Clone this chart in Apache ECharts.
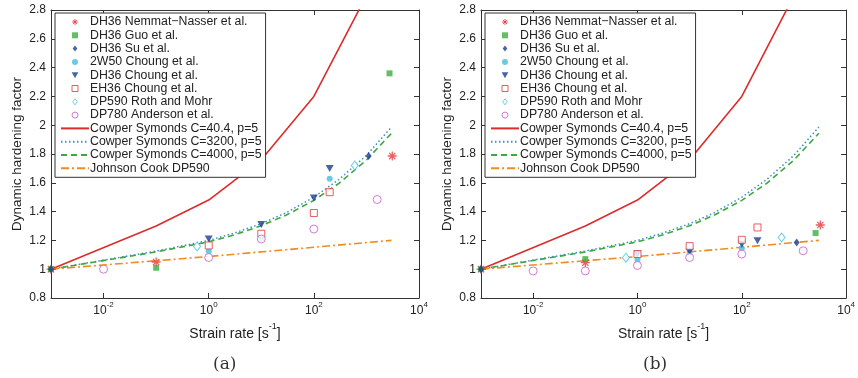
<!DOCTYPE html>
<html>
<head>
<meta charset="utf-8">
<script src="https://cdn.jsdelivr.net/npm/echarts@6/dist/echarts.min.js"></script>
<style>
html,body{margin:0;padding:0;background:#fff;}
#c{width:858px;height:378px;}
</style>
</head>
<body>
<div id="c"></div>
<script>
// ---------- data (strain rate [1/s], dynamic hardening factor) ----------
const xTickValues = [0.01, 1, 100, 10000];
const seriesNames = [
  'DH36 Nemmat\u2212Nasser et al.', 'DH36 Guo et al.', 'DH36 Su et al.', '2W50 Choung et al.',
  'DH36 Choung et al.', 'EH36 Choung et al.', 'DP590 Roth and Mohr', 'DP780 Anderson et al.',
  'Cowper Symonds C=40.4, p=5', 'Cowper Symonds C=3200, p=5', 'Cowper Symonds C=4000, p=5', 'Johnson Cook DP590'
];
const panelLabels = ['(a)', '(b)'];

// model curves (same in both panels)
const csC404  = [[0.001,1.0],[0.1,1.30],[1,1.48],[10,1.76],[100,2.20],[1000,2.90]];
const csC3200 = [[0.001,1.0],[0.1,1.126],[1,1.20],[3,1.25],[10,1.316],[30,1.393],[100,1.50],[300,1.623],[1000,1.79],[3000,1.987]];
const csC4000 = [[0.001,1.0],[0.1,1.12],[1,1.19],[3,1.237],[10,1.302],[30,1.376],[100,1.478],[300,1.596],[1000,1.758],[3000,1.944]];
const jcDP590 = [[0.001,1.0],[1,1.088],[3000,1.20]];

// panel (a) measurements
const aNemmat  = [[0.001,1.0],[0.1,1.05],[3100,1.786]];
const aGuo     = [[0.001,1.0],[0.1,1.01],[2750,2.36]];
const aSu      = [[0.001,1.0],[1100,1.786]];
const a2W50    = [[1,1.125],[10,1.215],[200,1.628]];
const aDH36Ch  = [[1,1.21],[10,1.31],[100,1.495],[200,1.70]];
const aEH36Ch  = [[1,1.165],[10,1.246],[100,1.39],[200,1.535]];
const aDP590   = [[0.6,1.158],[600,1.72]];
const aDP780   = [[0.01,1.0],[1,1.081],[10,1.21],[100,1.279],[1600,1.484]];

// panel (b) measurements
const bNemmat  = [[0.001,1.0],[0.1,1.045],[3200,1.307]];
const bGuo     = [[0.001,1.0],[0.1,1.07],[2600,1.251]];
const bSu      = [[0.001,1.0],[1130,1.186]];
const b2W50    = [[1,1.068],[10,1.12],[100,1.146]];
const bDH36Ch  = [[1,1.105],[10,1.123],[100,1.174],[200,1.197]];
const bEH36Ch  = [[1,1.105],[10,1.16],[100,1.204],[200,1.29]];
const bDP590   = [[0.6,1.08],[580,1.22]];
const bDP780   = [[0.01,0.988],[0.1,0.988],[1,1.026],[10,1.081],[100,1.105],[1500,1.128]];

const panelData = [
  [aNemmat, aGuo, aSu, a2W50, aDH36Ch, aEH36Ch, aDP590, aDP780],
  [bNemmat, bGuo, bSu, b2W50, bDH36Ch, bEH36Ch, bDP590, bDP780]
];
const curveData = [csC404, csC3200, csC4000, jcDP590];

// ---------- styles ----------
const FONT = '"Liberation Sans", Arial, Helvetica, sans-serif';
const AX = '#333';
const P_AST = 'path://M5,0L5,10M0,5L10,5M1.5,1.5L8.5,8.5M8.5,1.5L1.5,8.5';
const P_SQ = 'path://M0,0L10,0L10,10L0,10Z';
const P_DIA = 'path://M5,0L10,6.5L5,13L0,6.5Z';
const P_TRI = 'path://M0,0L10,0L5,9Z';
const P_CIR = 'circle';
const markerStyles = [
  {symbol: P_AST, symbolSize: 9, itemStyle: {color: 'rgba(0,0,0,0)', borderColor: '#e8343c', borderWidth: 1.3}},
  {symbol: P_SQ, symbolSize: 6, itemStyle: {color: '#3fae3f'}},
  {symbol: P_DIA, symbolSize: [6,8], itemStyle: {color: '#1d3c8c'}},
  {symbol: P_CIR, symbolSize: 6, itemStyle: {color: '#44bddb'}},
  {symbol: P_TRI, symbolSize: [8,7], itemStyle: {color: '#1d3c8c'}},
  {symbol: P_SQ, symbolSize: 7, itemStyle: {color: '#fff', borderColor: '#e0363c', borderWidth: 1}},
  {symbol: P_DIA, symbolSize: [7,9], itemStyle: {color: '#fff', borderColor: '#47c3e3', borderWidth: 1}},
  {symbol: P_CIR, symbolSize: 8, itemStyle: {color: '#fff', borderColor: '#c65cc6', borderWidth: 1}}
];
const lineStyles = [
  {color: '#dd2b2b', width: 1.6, type: 'solid'},
  {color: '#3b8fd0', width: 1.5, type: [1.5, 2.5]},
  {color: '#3da83d', width: 1.6, type: [6, 4]},
  {color: '#f08c1e', width: 1.6, type: [8, 3, 2, 3]}
];

function supLabel(v) {
  const e = Math.round(Math.log10(v));
  return '{b|10}{s|' + e + '}';
}
const supRich = {
  b: {fontSize: 12, fontFamily: FONT, color: '#222', lineHeight: 16, verticalAlign: 'bottom'},
  s: {fontSize: 8, fontFamily: FONT, color: '#222', verticalAlign: 'top'}
};

const grids = [
  {left: 51, top: 10, width: 368, height: 288},
  {left: 481, top: 10, width: 368, height: 288}
];

// legend entries
const legendData = seriesNames.map((n, k) => {
  if (k < 8) {
    const m = markerStyles[k];
    const st = Object.assign({}, m.itemStyle);
    if (k === 0) st.borderWidth = 1;
    return {name: n, icon: m.symbol, itemStyle: st};
  }
  return {name: n, itemStyle: {color: 'rgba(0,0,0,0)', borderColor: 'rgba(0,0,0,0)', borderWidth: 0}};
});

const xAxes = [], yAxes = [], series = [], legends = [], graphics = [];
grids.forEach((g, gi) => {
  xAxes.push({
    type: 'log', logBase: 10, gridIndex: gi, min: 0.001, max: 10000, position: 'bottom',
    name: '{a|Strain rate [s}{s|-1}{a|]}', nameLocation: 'middle', nameGap: 10,
    nameTextStyle: {rich: {
      a: {fontSize: 14, fontFamily: FONT, color: '#222', lineHeight: 19, verticalAlign: 'bottom'},
      s: {fontSize: 9, fontFamily: FONT, color: '#222', verticalAlign: 'top'}
    }},
    axisLine: {show: true, lineStyle: {color: AX, width: 1}},
    axisTick: {show: true, inside: true, length: 5, lineStyle: {color: AX}, customValues: xTickValues},
    axisLabel: {show: true, margin: 3, formatter: supLabel, rich: supRich, customValues: xTickValues},
    splitLine: {show: false}, minorTick: {show: false}
  });
  xAxes.push({
    type: 'log', logBase: 10, gridIndex: gi, min: 0.001, max: 10000, position: 'top',
    axisLine: {show: true, lineStyle: {color: AX, width: 1}},
    axisTick: {show: true, inside: true, length: 5, lineStyle: {color: AX}, customValues: xTickValues},
    axisLabel: {show: false}, splitLine: {show: false}
  });
  yAxes.push({
    type: 'value', gridIndex: gi, min: 0.8, max: 2.8, interval: 0.2, position: 'left',
    name: 'Dynamic hardening factor', nameLocation: 'middle', nameGap: 27,
    nameTextStyle: {fontSize: 13.5, fontFamily: FONT, color: '#222'},
    axisLine: {show: true, lineStyle: {color: AX, width: 1}},
    axisTick: {show: true, inside: true, length: 5, lineStyle: {color: AX}},
    axisLabel: {fontSize: 12, fontFamily: FONT, color: '#222', margin: 5},
    splitLine: {show: false}
  });
  yAxes.push({
    type: 'value', gridIndex: gi, min: 0.8, max: 2.8, interval: 0.2, position: 'right',
    axisLine: {show: true, lineStyle: {color: AX, width: 1}},
    axisTick: {show: true, inside: true, length: 5, lineStyle: {color: AX}},
    axisLabel: {show: false}, splitLine: {show: false}
  });

  const xi = gi * 2, yi = gi * 2;
  panelData[gi].forEach((d, k) => {
    series.push(Object.assign({
      type: 'scatter', name: seriesNames[k], xAxisIndex: xi, yAxisIndex: yi, data: d, z: 3
    }, markerStyles[k]));
  });
  curveData.forEach((d, k) => {
    series.push({
      type: 'line', name: seriesNames[8 + k], xAxisIndex: xi, yAxisIndex: yi, data: d,
      symbol: 'none', lineStyle: lineStyles[k], z: 2, clip: true
    });
  });

  legends.push({
    orient: 'vertical', left: g.left + 4, top: 13,
    data: legendData,
    backgroundColor: '#fff', borderColor: '#333', borderWidth: 1,
    padding: [3, 4, 3, 5],
    itemWidth: 28, itemHeight: 6, itemGap: 1.3,
    symbolKeepAspect: true,
    textStyle: {fontSize: 12.3, fontFamily: FONT, color: '#222', lineHeight: 12, padding: [0,0,0,-4]},
    selectedMode: false, z: 10
  });

  graphics.push({
    type: 'text', left: g.left + 162, top: 356,
    style: {text: panelLabels[gi], fontSize: 17, fontFamily: '"DejaVu Serif", "Liberation Serif", serif', fill: '#333'}
  });
});

const chart = echarts.init(document.getElementById('c'), null, {renderer: 'canvas'});
chart.setOption({
  animation: false,
  backgroundColor: '#fff',
  grid: grids,
  xAxis: xAxes,
  yAxis: yAxes,
  legend: legends,
  series: series,
  graphic: graphics
});
</script>
</body>
</html>
